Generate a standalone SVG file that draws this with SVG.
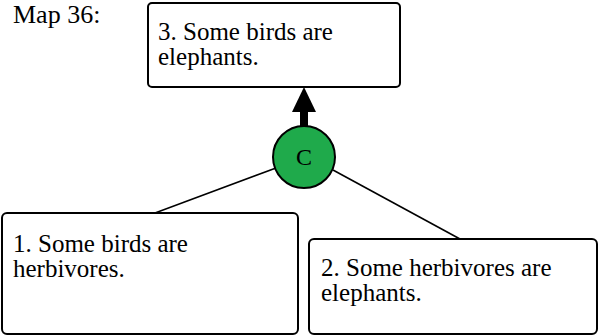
<svg xmlns="http://www.w3.org/2000/svg" width="599" height="336" viewBox="0 0 599 336">
<style>
.box{fill:#fff;stroke:#000;stroke-width:2}
text{font-family:'Liberation Serif','DejaVu Serif',serif;font-size:25px;fill:#000}
.ln{stroke:#000;stroke-width:1.6;fill:none}
</style>
<rect width="599" height="336" fill="#fff"/>
<text x="13" y="23" style="font-size:26px">Map 36:</text>
<g id="connectors">
<line class="ln" x1="276" y1="168" x2="155" y2="213"/>
<line class="ln" x1="333" y1="170" x2="460" y2="239"/>
<line x1="304" y1="128" x2="304" y2="108" stroke="#000" stroke-width="8"/>
<polygon points="292,112 316,112 304,87" fill="#000"/>
</g>
<g id="node3">
<rect class="box" x="148" y="3" width="252" height="84" rx="4"/>
<text x="158" y="40">3. Some birds are</text>
<text x="158" y="65">elephants.</text>
</g>
<g id="nodeC">
<circle cx="304" cy="157" r="31" fill="#1faa4b" stroke="#000" stroke-width="2"/>
<text x="304" y="165" text-anchor="middle" style="font-size:24px">C</text>
</g>
<g id="node1">
<rect class="box" x="2" y="213" width="296" height="121" rx="5"/>
<text x="13" y="252">1. Some birds are</text>
<text x="13" y="277">herbivores.</text>
</g>
<g id="node2">
<rect class="box" x="309" y="239" width="288" height="95" rx="5"/>
<text x="321" y="276">2. Some herbivores are</text>
<text x="321" y="301">elephants.</text>
</g>
</svg>
